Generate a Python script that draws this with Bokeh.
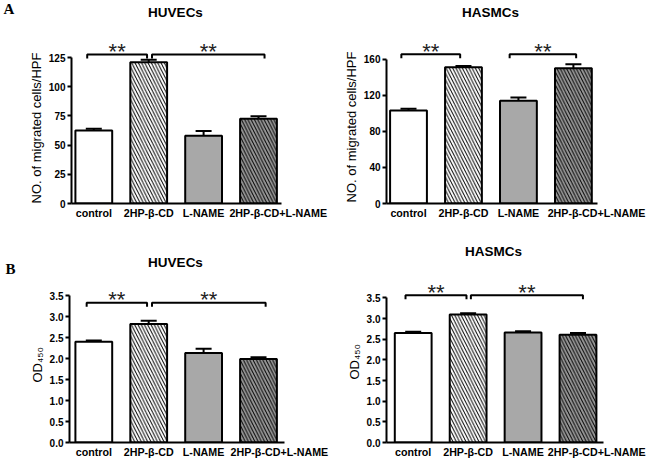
import math
from bokeh.plotting import figure
from bokeh.layouts import column, row
from bokeh.models import Range1d, FixedTicker, Label, ColumnDataSource, PrintfTickFormatter, Title
from bokeh.embed import file_html
from bokeh.resources import INLINE

# ---------------- data ----------------
categories = ["control", "2HP-β-CD", "L-NAME", "2HP-β-CD+L-NAME"]

migration_huvec = [62.5, 121.0, 58.0, 72.5]
migration_huvec_err = [1.5, 2.0, 4.0, 2.2]
migration_hasmc = [103.0, 151.0, 114.0, 150.0]
migration_hasmc_err = [2.0, 1.5, 3.5, 4.5]
od_huvec = [2.40, 2.82, 2.13, 1.99]
od_huvec_err = [0.03, 0.08, 0.10, 0.04]
od_hasmc = [2.65, 3.10, 2.66, 2.61]
od_hasmc_err = [0.03, 0.03, 0.03, 0.04]

migration_huvec_ticks = [0, 25, 50, 75, 100, 125]
migration_hasmc_ticks = [0, 40, 80, 120, 160]
od_ticks = [0.0, 0.5, 1.0, 1.5, 2.0, 2.5, 3.0, 3.5]

comparisons_huvec_migration = [(0, 1), (1, 3)]
comparisons_hasmc_migration = [(0, 1), (2, 3)]
comparisons_huvec_od = [(0, 1), (1, 3)]
comparisons_hasmc_od = [(0, 1), (1, 3)]
significance = "**"

# ---------------- style / layout ----------------
FONT = "Liberation Sans"
fills = ["white", "white", "#a8a8a8", "#999999"]
hatches = [" ", "\\", " ", "\\"]
BAR_W = 0.67
HAS_STANDOFF = "standoff" in Title.properties()


def letter_fig(w, h, letter, cx, cy):
    f = figure(width=w, height=h, output_backend="svg", toolbar_location=None,
               x_range=Range1d(0, w), y_range=Range1d(h, 0),
               x_axis_location=None, y_axis_location=None,
               min_border_left=0, min_border_right=0, min_border_top=0, min_border_bottom=0)
    f.outline_line_color = None
    f.xgrid.visible = False
    f.ygrid.visible = False
    f.add_layout(Label(x=cx, y=cy, text=letter, text_font="Liberation Serif",
                       text_font_style="bold", text_font_size="15px", text_color="black",
                       text_align="center", text_baseline="middle"))
    return f


def build(fig, frame, centers, values, errs, ticks, tick_fmt, ylabel, ylabel_offset,
          title, title_px, comps, br_offsets, br_level, last_shift, star_gap=2.7):
    fx, fy, W, H = fig
    L, R, T, B = frame
    c0, c3 = centers
    n = len(categories)
    k = (c3 - c0) / (n - 1)
    ytop = ticks[-1]
    ppu = (B - T) / ytop

    def X(px):
        return (px - c0) / k

    def Y(py):
        return (B - py) / ppu

    p = figure(width=W, height=H, output_backend="svg", toolbar_location=None,
               x_range=Range1d(X(L), X(R)), y_range=Range1d(0, Y(fy)),
               min_border_left=L - fx, min_border_right=fx + W - R,
               min_border_top=0, min_border_bottom=fy + H - B)
    p.outline_line_color = None
    p.xgrid.visible = False
    p.ygrid.visible = False
    p.background_fill_color = "white"
    p.border_fill_color = "white"

    xs = list(range(n))
    tops = [v + e for v, e in zip(values, errs)]
    src = ColumnDataSource(dict(x=xs, top=values, fill=fills, hatch=hatches))
    p.vbar(x="x", top="top", bottom=0, width=BAR_W, source=src,
           fill_color="fill", line_color="black", line_width=2,
           hatch_pattern="hatch", hatch_color="black", hatch_scale=6.5, hatch_weight=1)
    cw = 8.0 / k
    p.segment(x0=xs, y0=values, x1=xs, y1=tops, line_color="black", line_width=2)
    p.segment(x0=[x - cw for x in xs], y0=tops, x1=[x + cw for x in xs], y1=tops,
              line_color="black", line_width=2)

    # significance brackets
    tip = 4.0 / ppu
    bxs, bys = [], []
    for (i, j), (oa, ob) in zip(comps, br_offsets):
        xa, xb = i + oa, j + ob
        bxs.append([xa, xa, xb, xb])
        bys.append([br_level - tip, br_level, br_level, br_level - tip])
        line_px = B - br_level * ppu
        p.add_layout(Label(x=(xa + xb) / 2, y=Y(line_px - star_gap), text=significance,
                           text_font=FONT, text_font_size="22px", text_color="#222222",
                           text_align="center", text_baseline="middle"))
    p.multi_line(xs=bxs, ys=bys, line_color="black", line_width=2)

    # axes
    yax = p.yaxis[0]
    yax.ticker = FixedTicker(ticks=ticks)
    if tick_fmt:
        yax.formatter = PrintfTickFormatter(format=tick_fmt)
    yax.bounds = (0, ytop)
    yax.axis_line_width = 2
    yax.major_tick_line_width = 2
    yax.major_tick_out = 4
    yax.major_tick_in = 0
    yax.minor_tick_line_color = None
    yax.major_label_standoff = 2
    yax.major_label_text_font = FONT
    yax.major_label_text_font_style = "bold"
    yax.major_label_text_font_size = "10px"
    yax.major_label_text_color = "black"

    xax = p.xaxis[0]
    label_pos = [float(i) for i in xs]
    label_pos[-1] = label_pos[-1] + last_shift
    xax.ticker = FixedTicker(ticks=label_pos)
    xax.major_label_overrides = {pos: c for pos, c in zip(label_pos, categories)}
    xax.axis_line_width = 2
    xax.major_tick_line_color = None
    xax.major_tick_out = 0
    xax.major_tick_in = 0
    xax.minor_tick_line_color = None
    xax.major_label_standoff = 3
    xax.major_label_text_font = FONT
    xax.major_label_text_font_style = "bold"
    xax.major_label_text_font_size = "10.7px"
    xax.major_label_text_color = "black"

    # y label as a side title, anchored at the frame bottom
    yt = Title(text=ylabel, align="left", offset=ylabel_offset, text_font=FONT,
               text_font_size="13px", text_font_style="normal", text_color="black")
    if HAS_STANDOFF:
        yt.standoff = 3
    p.add_layout(yt, "left")

    # title
    p.add_layout(Label(x=X(title_px[0]), y=Y(title_px[1]), text=title,
                       text_font=FONT, text_font_style="bold", text_font_size="13.5px",
                       text_color="black", text_align="center", text_baseline="middle"))
    return p


fA = letter_fig(20, 230, "A", 8.5, 10)
p1 = build((20, 0, 315, 230), (71, 281, 57, 203), (93.3, 258.0),
           migration_huvec, migration_huvec_err, migration_huvec_ticks, None,
           "NO. of migrated cells/HPF", 0, "HUVECs", (175, 11.5),
           comparisons_huvec_migration, [(-0.12, -0.03), (0.06, 0.11)], 127.6, 0.36)
p2 = build((335, 0, 316, 230), (386, 597, 59, 204), (408.0, 572.9),
           migration_hasmc, migration_hasmc_err, migration_hasmc_ticks, None,
           "NO. of migrated cells/HPF", 1, "HASMCs", (490, 12),
           comparisons_hasmc_migration, [(-0.13, -0.06), (-0.16, 0.05)], 165.5, 0.42)
fB = letter_fig(20, 232, "B", 10, 42)
p3 = build((20, 230, 315, 232), (69, 284, 295, 442), (93.3, 258.0),
           od_huvec, od_huvec_err, od_ticks, "%.1f",
           "OD₄₅₀", 60, "HUVECs", (175, 261.7),
           comparisons_huvec_od, [(-0.13, -0.03), (0.06, 0.13)], 3.33, 0.38)
p4 = build((335, 230, 316, 232), (386, 603, 298, 444), (412.7, 577.5),
           od_hasmc, od_hasmc_err, od_ticks, "%.1f",
           "OD₄₅₀", 63, "HASMCs", (493, 251.7),
           comparisons_hasmc_od, [(-0.14, -0.03), (0.05, 0.09)], 3.565, 0.34)

layout = column(row(fA, p1, p2), row(fB, p3, p4))
open("out.html", "w").write(file_html(layout, INLINE))
